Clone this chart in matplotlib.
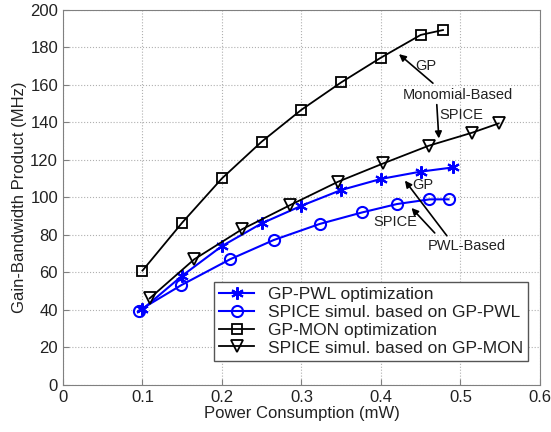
import matplotlib
matplotlib.use("Agg")
import matplotlib.pyplot as plt

plt.rcParams['font.family'] = ['Liberation Sans', 'DejaVu Sans']

# GP-PWL optimization
pwl_x = [0.10, 0.15, 0.20, 0.25, 0.30, 0.35, 0.40, 0.45, 0.49]
pwl_y = [40.4, 58.3, 74.1, 86.2, 95.6, 104.0, 109.9, 113.8, 116.0]

# SPICE simul. based on GP-PWL
spwl_x = [0.095, 0.149, 0.210, 0.265, 0.323, 0.376, 0.420, 0.461, 0.485]
spwl_y = [39.6, 53.3, 67.0, 77.3, 85.9, 92.0, 96.5, 99.0, 99.0]

# GP-MON optimization
mon_x = [0.10, 0.15, 0.20, 0.25, 0.30, 0.35, 0.40, 0.45, 0.478]
mon_y = [61.0, 86.6, 110.2, 129.8, 146.8, 161.4, 174.6, 186.7, 189.3]

# SPICE simul. based on GP-MON
smon_x = [0.109, 0.165, 0.225, 0.286, 0.346, 0.403, 0.460, 0.515, 0.548]
smon_y = [46.2, 67.0, 83.0, 96.0, 108.4, 118.2, 127.6, 134.6, 139.5]

labels = ['GP-PWL optimization', 'SPICE simul. based on GP-PWL',
          'GP-MON optimization', 'SPICE simul. based on GP-MON']

fig = plt.figure(figsize=(5.51, 4.32), dpi=100)
ax = fig.add_axes([0.1143, 0.1088, 0.8657, 0.8681])

blue = '#0000ff'
ax.plot(pwl_x, pwl_y, '-', marker=(6, 2, 0), color=blue, lw=1.5, ms=9, mew=1.5, label=labels[0])
ax.plot(spwl_x, spwl_y, '-o', color=blue, lw=1.5, ms=8, mfc='none', mew=1.5, label=labels[1])
ax.plot(mon_x, mon_y, '-s', color='black', lw=1.3, ms=7, mfc='none', mew=1.3, label=labels[2])
ax.plot(smon_x, smon_y, '-v', color='black', lw=1.3, ms=9, mfc='none', mew=1.3, label=labels[3])

ax.set_xlim(0, 0.6)
ax.set_ylim(0, 200)
ax.set_xticks([0, 0.1, 0.2, 0.3, 0.4, 0.5, 0.6])
ax.set_xticklabels(['0', '0.1', '0.2', '0.3', '0.4', '0.5', '0.6'])
ax.set_yticks(range(0, 201, 20))
ax.grid(True, ls=':', color='#b0b0b0', lw=0.8)
for s in ax.spines.values():
    s.set_color('#808080')
ax.tick_params(direction='in', colors='#808080', labelcolor='#222222', labelsize=12, length=4)
ax.set_xlabel('Power Consumption (mW)', fontsize=12, color='#222222', labelpad=1)
ax.set_ylabel('Gain-Bandwidth Product (MHz)', fontsize=12, color='#222222', labelpad=2)

# annotations
tc = '#222222'
ap = dict(arrowstyle='-|>', color='black', lw=1.2, mutation_scale=10)
ax.text(0.457, 170, 'GP', fontsize=10.5, color=tc, ha='center', va='center')
ax.annotate('', xy=(0.420, 177.4), xytext=(0.468, 160), arrowprops=ap)
ax.text(0.497, 154.7, 'Monomial-Based', fontsize=10.5, color=tc, ha='center', va='center')
ax.text(0.501, 144, 'SPICE', fontsize=10.5, color=tc, ha='center', va='center')
ax.annotate('', xy=(0.473, 130), xytext=(0.470, 151), arrowprops=ap)

ax.text(0.453, 106.7, 'GP', fontsize=10.5, color=tc, ha='center', va='center')
ax.text(0.418, 87, 'SPICE', fontsize=10.5, color=tc, ha='center', va='center')
ax.text(0.508, 74, 'PWL-Based', fontsize=10.5, color=tc, ha='center', va='center')
ax.annotate('', xy=(0.428, 110.2), xytext=(0.485, 78.4), arrowprops=ap)
ax.annotate('', xy=(0.436, 95.5), xytext=(0.470, 80), arrowprops=ap)

leg = ax.legend(loc='upper left', bbox_to_anchor=(0.317, 0.275), borderaxespad=0,
                fontsize=12.5, handlelength=2.0, labelspacing=0.15, fancybox=False,
                framealpha=1, edgecolor='#555555', borderpad=0.3)
for t in leg.get_texts():
    t.set_color(tc)

fig.savefig('out.png', dpi=100)
